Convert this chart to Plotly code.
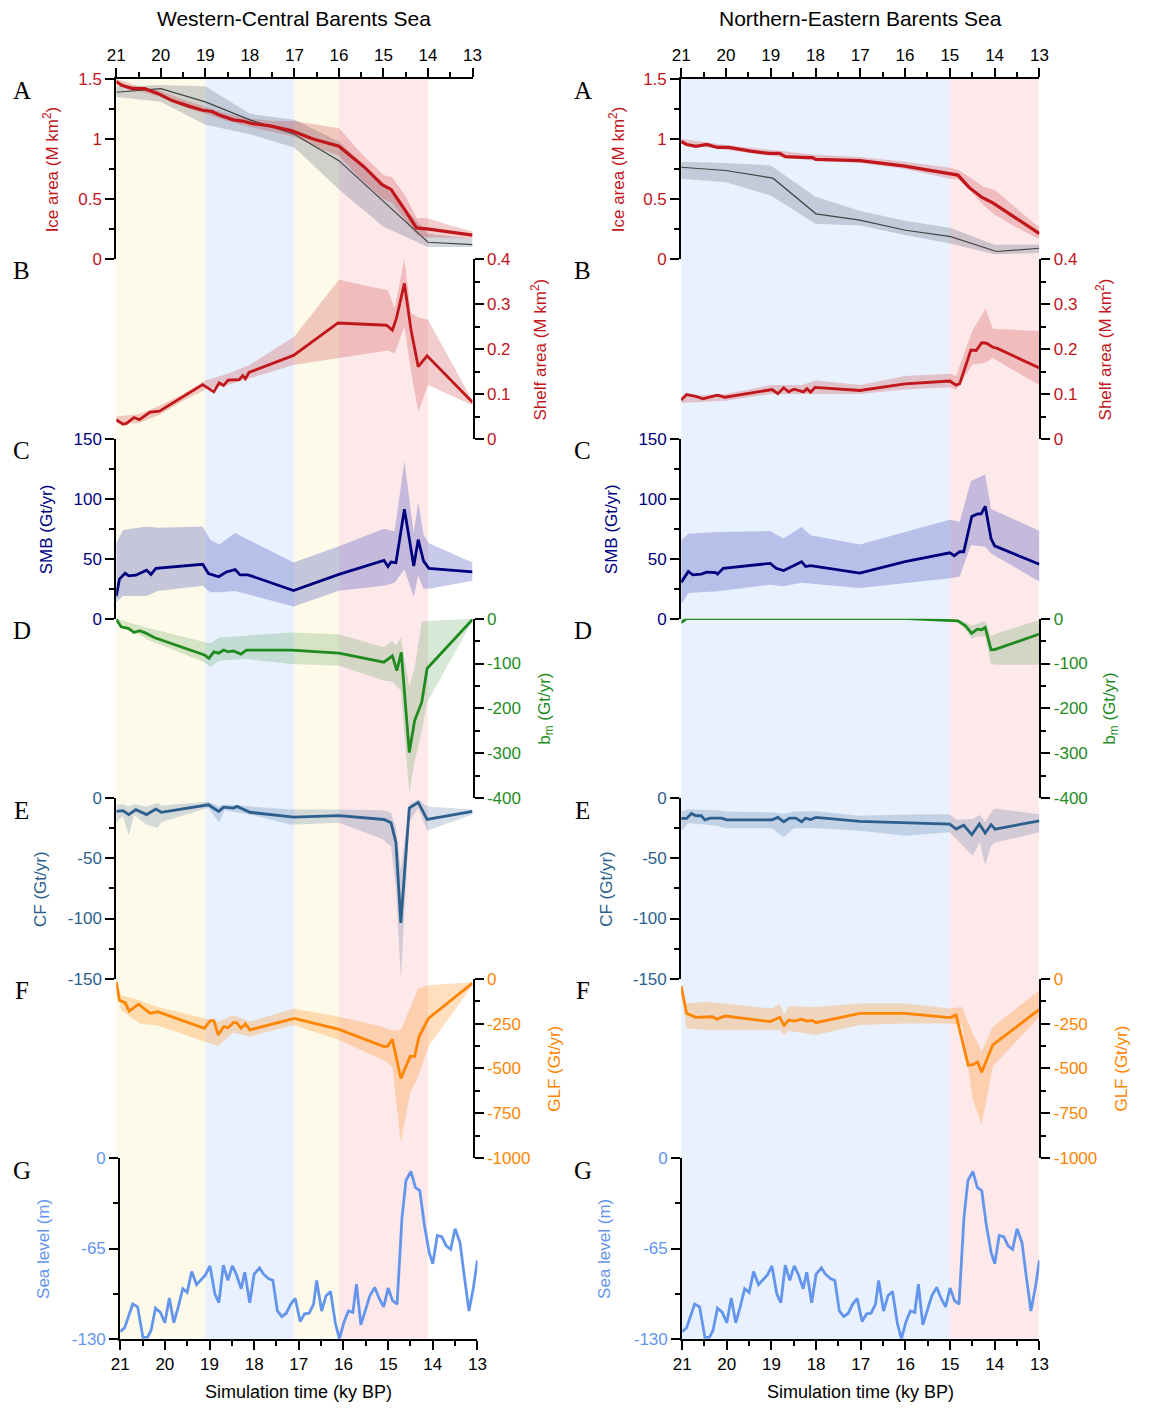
import plotly.graph_objects as go

W, H = 1151, 1421
OFF = 8                      # page body margin of the browser
FW, FH = W - 2 * OFF, H - 2 * OFF

# ---------------- DATA ----------------
# Western-Central Barents Sea
WC_ICE_T = [21.0, 20.89, 20.64, 20.36, 20.07, 19.75, 19.34, 19.06, 18.85, 18.69, 18.37, 18.16, 17.96, 17.55, 17.07, 16.58, 16.0, 15.44, 15.03, 14.83, 14.5, 14.26, 13.98, 13.0]
WC_ICE = [1.48, 1.45, 1.42, 1.42, 1.38, 1.32, 1.27, 1.24, 1.23, 1.20, 1.16, 1.15, 1.13, 1.11, 1.07, 1.00, 0.94, 0.77, 0.62, 0.58, 0.40, 0.26, 0.25, 0.20]
WC_ICE_BT = [21, 20.5, 20, 19.5, 19, 18.5, 18, 17.5, 17, 16.5, 16, 15.5, 15, 14.8, 14.5, 14.25, 14, 13.5, 13]
WC_ICE_LO = [1.46, 1.40, 1.35, 1.27, 1.21, 1.15, 1.10, 1.06, 1.02, 0.93, 0.86, 0.66, 0.50, 0.47, 0.32, 0.20, 0.18, 0.18, 0.17]
WC_ICE_HI = [1.50, 1.44, 1.40, 1.33, 1.27, 1.21, 1.17, 1.15, 1.15, 1.12, 1.09, 0.88, 0.70, 0.68, 0.52, 0.34, 0.34, 0.28, 0.23]
WC_GRD_T = [21, 20, 19, 18, 17, 16, 14, 13]
WC_GRD = [1.39, 1.42, 1.31, 1.16, 1.04, 0.82, 0.14, 0.12]
WC_GRD_BT = [21, 20, 19, 18, 17, 16, 15, 14, 13]
WC_GRD_LO = [1.35, 1.31, 1.12, 1.04, 0.93, 0.58, 0.27, 0.10, 0.10]
WC_GRD_HI = [1.44, 1.45, 1.44, 1.21, 1.16, 0.98, 0.62, 0.21, 0.17]

WC_SHELF_T = [21, 20.85, 20.77, 20.6, 20.48, 20.24, 20.03, 19.06, 18.81, 18.69, 18.59, 18.49, 18.24, 18.16, 18.1, 18.02, 17.02, 16.02, 14.93, 14.80, 14.71, 14.53, 14.38, 14.22, 14.02, 13.0]
WC_SHELF = [0.043, 0.033, 0.035, 0.048, 0.043, 0.060, 0.062, 0.121, 0.105, 0.125, 0.119, 0.131, 0.132, 0.141, 0.134, 0.148, 0.186, 0.258, 0.253, 0.242, 0.268, 0.346, 0.242, 0.161, 0.185, 0.082]
WC_SHELF_BT = [21, 20.5, 20, 19.5, 19, 18.5, 18, 17, 16, 14.9, 14.75, 14.53, 14.38, 14.22, 14.0, 13]
WC_SHELF_LO = [0.035, 0.035, 0.055, 0.085, 0.11, 0.12, 0.135, 0.165, 0.18, 0.197, 0.19, 0.25, 0.15, 0.06, 0.12, 0.075]
WC_SHELF_HI = [0.05, 0.055, 0.075, 0.10, 0.13, 0.145, 0.165, 0.228, 0.354, 0.33, 0.29, 0.40, 0.28, 0.27, 0.265, 0.085]

WC_SMB_T = [21, 20.93, 20.8, 20.72, 20.56, 20.32, 20.22, 20.11, 19.06, 18.93, 18.7, 18.53, 18.33, 18.22, 18.04, 17.02, 16.0, 14.99, 14.9, 14.83, 14.72, 14.53, 14.32, 14.22, 14.1, 13.98, 13.0]
WC_SMB = [18.7, 33, 38, 35.8, 36.3, 40.5, 37, 42, 45.4, 37.7, 35, 39, 41, 36.6, 36.6, 23.4, 37, 48.7, 43.5, 47.3, 46.8, 91.4, 44, 66, 48, 42, 39]
WC_SMB_BT = [21, 20.85, 20.32, 20.07, 19.06, 18.89, 18.69, 18.33, 18.04, 17.02, 16.0, 14.99, 14.75, 14.53, 14.32, 14.22, 14.10, 13.98, 13.0]
WC_SMB_LO = [14, 19, 19, 23, 27.5, 22, 22, 23, 20.6, 10.2, 23.4, 27.5, 30, 41, 18, 36, 25, 25, 31.6]
WC_SMB_HI = [63, 74, 77, 76, 77, 66, 62, 71.5, 66, 47, 60.5, 75, 73, 131.5, 71.5, 97.7, 70, 63, 47]

WC_BM_T = [21, 20.89, 20.72, 20.6, 20.48, 20.36, 20.15, 19.02, 18.92, 18.81, 18.7, 18.59, 18.49, 18.37, 18.2, 18.08, 17.07, 16.0, 14.99, 14.8, 14.7, 14.6, 14.42, 14.3, 14.14, 14.02, 13.0]
WC_BM = [-1.5, -18, -22, -31, -27, -31, -42, -81, -88.5, -74, -77, -70, -74, -72, -79, -70, -70, -77, -97, -83, -116, -75, -298, -227, -186, -111, -2]
WC_BM_BT = [21, 20.32, 19.02, 18.89, 18.69, 18.08, 17.07, 16.0, 14.99, 14.8, 14.71, 14.61, 14.42, 14.3, 14.14, 14.02, 13.0]
WC_BM_LO = [-3, -46, -97, -108, -94, -90, -101, -105, -138, -140, -150, -160, -389, -319, -250, -186, -5]
WC_BM_HI = [0, -20, -52, -55, -42, -38, -31, -35, -64, -50, -60, -42, -150, -110, -7, -5, 0]

WC_CF_T = [21, 20.85, 20.72, 20.56, 20.32, 20.11, 19.99, 18.93, 18.7, 18.59, 18.37, 18.29, 18.0, 17.02, 16.0, 14.99, 14.83, 14.72, 14.61, 14.42, 14.22, 14.02, 13.0]
WC_CF = [-11, -10.4, -13.6, -9.5, -13.6, -9, -11.7, -5.5, -11, -7.4, -8.2, -6.8, -11.7, -15.8, -14.5, -17.7, -20.5, -36.8, -103.6, -8.2, -3.5, -17.7, -11]
WC_CF_BT = [21, 20.85, 20.72, 20.6, 20.32, 20.07, 19.99, 18.93, 18.69, 18.57, 17.96, 17.07, 16.0, 15.03, 14.83, 14.72, 14.61, 14.42, 14.22, 14.02, 13.0]
WC_CF_LO = [-20, -15, -31, -14, -22, -24.5, -20, -8, -20.5, -10, -14, -22, -20.5, -34, -40, -75, -150, -20, -8, -27, -13.6]
WC_CF_HI = [-5.5, -5, -7, -5, -7, -4, -6, -3, -7, -5, -7, -9.5, -9.5, -10, -12, -25, -60, -5, -1, -7, -9.5]

WC_GLF_T = [21, 20.93, 20.8, 20.71, 20.5, 20.32, 20.24, 20.07, 19.02, 18.89, 18.81, 18.71, 18.59, 18.49, 18.37, 18.3, 18.2, 18.1, 18.0, 17.0, 16.0, 14.99, 14.9, 14.8, 14.61, 14.4, 14.3, 14.2, 13.99, 13.0]
WC_GLF = [-18, -120, -134, -180, -142, -180, -193, -184, -276, -234, -234, -313, -267, -273, -245, -245, -276, -252, -285, -221, -282, -378, -375, -337, -556, -433, -433, -322, -221, -25]
WC_GLF_BT = [21, 20.89, 20.48, 20.07, 19.02, 18.71, 18.37, 18.0, 17.02, 16.0, 15.03, 14.8, 14.61, 14.4, 14.22, 13.99, 13.0]
WC_GLF_LO = [-25, -175, -249, -260, -350, -374, -300, -322, -258, -341, -451, -488, -912, -635, -543, -378, -37]
WC_GLF_HI = [-10, -92, -120, -157, -221, -240, -203, -240, -166, -212, -267, -290, -285, -157, -55, -37, -20]

# Sea level (same forcing in both regions)
SL_T = [21.0, 20.9, 20.72, 20.61, 20.49, 20.39, 20.31, 20.21, 20.1, 20.0, 19.9, 19.8, 19.7, 19.6, 19.5, 19.4, 19.29, 19.19, 19.09, 18.99,
        18.88, 18.79, 18.69, 18.59, 18.49, 18.4, 18.29, 18.21, 18.1, 18.0, 17.88, 17.79, 17.68, 17.58, 17.48, 17.38, 17.28, 17.18, 17.08, 16.97,
        16.87, 16.77, 16.67, 16.6, 16.49, 16.39, 16.29, 16.18, 16.09, 15.99, 15.89, 15.79, 15.71, 15.61, 15.51, 15.41, 15.3, 15.2, 15.1, 15.0,
        14.9, 14.8, 14.69, 14.6, 14.49, 14.39, 14.29, 14.19, 14.08, 14.0, 13.9, 13.8, 13.7, 13.6, 13.5, 13.39, 13.29, 13.19, 13.09, 13.0]
SL = [-125, -122, -105, -107, -129, -129, -124, -108, -111, -118.5, -100.6, -118.5, -107, -94, -96.6, -81.6, -91, -87.5, -84, -77.5,
      -97.8, -104, -77, -88, -77.5, -83.5, -94, -82, -104, -83.5, -79, -83.5, -86.6, -88, -110, -114, -111.6, -105, -101, -117.6,
      -112, -111.6, -105, -88, -110, -99, -96, -119, -130, -118, -110, -111, -90.6, -120, -108.5, -99, -93, -101, -107, -93.5,
      -102.6, -105, -43, -16, -9.5, -21, -23.4, -47.7, -68, -76, -55.6, -56.5, -63, -65.6, -50.8, -60.8, -86, -110, -93, -73.5]

# Northern-Eastern Barents Sea
NE_ICE_T = [21, 20.88, 20.67, 20.43, 20.19, 19.94, 19.45, 19.05, 18.8, 18.68, 18.31, 18.07, 17.99, 17.01, 16.04, 15.02, 14.82, 14.57, 14.29, 14.04, 13.0]
NE_ICE = [0.98, 0.955, 0.94, 0.955, 0.93, 0.93, 0.90, 0.88, 0.88, 0.853, 0.848, 0.845, 0.83, 0.82, 0.776, 0.707, 0.70, 0.597, 0.515, 0.468, 0.212]
NE_ICE_BT = [21, 20, 19, 18, 17, 16, 15, 14.8, 14.5, 14.25, 14.0, 13.5, 13]
NE_ICE_LO = [0.96, 0.91, 0.86, 0.82, 0.80, 0.75, 0.67, 0.66, 0.55, 0.45, 0.37, 0.26, 0.165]
NE_ICE_HI = [1.0, 0.95, 0.91, 0.87, 0.85, 0.81, 0.76, 0.74, 0.67, 0.60, 0.578, 0.42, 0.26]
NE_GRD_T = [21, 20.0, 18.95, 17.99, 17.01, 15.99, 14.98, 13.96, 13.0]
NE_GRD = [0.765, 0.738, 0.674, 0.377, 0.325, 0.24, 0.187, 0.063, 0.09]
NE_GRD_BT = [21, 20, 19, 18, 17, 16, 15, 14, 13]
NE_GRD_LO = [0.67, 0.64, 0.53, 0.295, 0.28, 0.20, 0.13, 0.04, 0.05]
NE_GRD_HI = [0.81, 0.80, 0.78, 0.52, 0.40, 0.32, 0.26, 0.12, 0.12]

NE_SHELF_T = [21, 20.88, 20.67, 20.51, 20.35, 20.19, 20.02, 18.97, 18.84, 18.71, 18.60, 18.48, 18.27, 18.19, 18.11, 18.01, 17.01, 16.0, 15.0, 14.86, 14.78, 14.53, 14.41, 14.29, 14.18, 14.04, 13.95, 13.0]
NE_SHELF = [0.087, 0.099, 0.095, 0.0895, 0.094, 0.0976, 0.093, 0.110, 0.101, 0.114, 0.105, 0.111, 0.105, 0.112, 0.104, 0.115, 0.108, 0.1226, 0.129, 0.12, 0.123, 0.198, 0.197, 0.214, 0.213, 0.204, 0.202, 0.158]
NE_SHELF_BT = [21, 20, 19, 18.3, 18, 17, 16, 15, 14.86, 14.5, 14.2, 14.04, 13.0]
NE_SHELF_LO = [0.08, 0.085, 0.10, 0.10, 0.10, 0.10, 0.11, 0.115, 0.11, 0.165, 0.17, 0.18, 0.12]
NE_SHELF_HI = [0.095, 0.10, 0.12, 0.12, 0.13, 0.12, 0.14, 0.145, 0.14, 0.24, 0.29, 0.245, 0.24]

NE_SMB_T = [21, 20.84, 20.74, 20.55, 20.43, 20.23, 20.19, 20.06, 19.01, 18.88, 18.71, 18.31, 18.22, 18.11, 17.01, 16.0, 15.0, 14.9, 14.78, 14.69, 14.51, 14.38, 14.3, 14.21, 14.08, 14.0, 13.0]
NE_SMB = [30.3, 39.4, 36.6, 37.2, 38.8, 38.5, 37.2, 42.1, 46.2, 42.1, 40.2, 47.6, 43.5, 44.3, 38, 47.6, 55, 52.6, 55.9, 55.9, 85.3, 87.5, 87.5, 93.8, 66.9, 60.8, 45.4]
NE_SMB_BT = [21, 20.84, 20.19, 19.01, 18.72, 18.31, 18.11, 17.01, 15.0, 14.78, 14.53, 14.21, 14.08, 13.0]
NE_SMB_LO = [11.8, 21.5, 22.8, 28.3, 27, 30, 29.7, 25.6, 33.8, 35.2, 61.4, 60, 54.5, 31]
NE_SMB_HI = [65.5, 71, 72.4, 73.2, 66.9, 76.5, 69.6, 61.9, 82.6, 81, 115, 120.5, 91.6, 73.2]

NE_BM_T = [21, 20.88, 15.96, 15.0, 14.82, 14.65, 14.51, 14.39, 14.29, 14.21, 14.08, 14.0, 13.0]
NE_BM = [-8.7, 0, 0, -5, -5, -16, -32.8, -23.3, -24.8, -19.7, -69.2, -69, -34.2]
NE_BM_BT = [21, 20.88, 15.96, 15.0, 14.82, 14.65, 14.51, 14.39, 14.21, 14.08, 14.0, 13.0]
NE_BM_LO = [-10, -1, -1, -7, -8, -25, -45, -40, -40, -100, -103, -103]
NE_BM_HI = [-7, 0, 0, -3, -2, -8, -15, -12, -5, -40, -34, -3]

NE_CF_T = [21, 20.88, 20.77, 20.67, 20.55, 20.47, 20.35, 20.10, 19.98, 18.97, 18.84, 18.71, 18.58, 18.44, 18.31, 18.22, 18.11, 17.99, 17.01, 16.0, 15.0, 14.86, 14.69, 14.51, 14.34, 14.21, 14.08, 13.99, 13.0]
NE_CF = [-16.8, -16.8, -12.7, -14.6, -14.6, -18, -16.6, -16.6, -18, -18, -16, -19.6, -16.6, -16.6, -19.6, -16.6, -17.7, -16, -19.3, -20.7, -21.5, -25.7, -22.4, -30.4, -21.5, -29, -22, -25.7, -18.8]
NE_CF_BT = [21, 20.84, 20.19, 20.02, 18.97, 18.71, 18.48, 17.99, 17.01, 16.0, 15.0, 14.86, 14.49, 14.33, 14.21, 14.08, 14.0, 13.0]
NE_CF_LO = [-27, -20.7, -23, -25, -25, -32.6, -25, -25, -27, -31.2, -28.4, -34, -47.8, -36.7, -56, -39.5, -37, -28.4]
NE_CF_HI = [-11, -9.1, -10, -11, -11.9, -13, -11, -10.8, -14.6, -13.5, -13.3, -18, -17.4, -14, -20, -12, -8.6, -13.3]

NE_GLF_T = [21, 20.88, 20.67, 20.31, 20.20, 20.02, 19.01, 18.80, 18.70, 18.60, 18.48, 18.31, 18.19, 18.07, 17.99, 17.01, 16.0, 15.0, 14.86, 14.59, 14.49, 14.38, 14.29, 14.04, 13.0]
NE_GLF = [-42, -193, -215, -212, -225, -208, -239, -215, -261, -230, -236, -226, -236, -232, -245, -193, -193, -217, -203, -482, -479, -464, -521, -368, -171]
NE_GLF_BT = [21, 20.88, 20.43, 18.97, 18.80, 18.70, 18.60, 17.99, 17.01, 16.0, 15.0, 14.73, 14.49, 14.29, 14.04, 13.0]
NE_GLF_LO = [-45, -276, -285, -285, -285, -313, -290, -313, -258, -249, -249, -258, -672, -810, -488, -212]
NE_GLF_HI = [-38, -138, -129, -166, -138, -200, -153, -157, -138, -138, -166, -157, -304, -405, -267, -64]

# Climate periods (start, end, kind)
WC_PERIODS = [(21, 19, "cold"), (19, 17, "stadial"), (17, 16, "cold"), (16, 14, "warm")]
NE_PERIODS = [(21, 15, "stadial"), (15, 13, "warm")]

X_TICKS = [21, 20, 19, 18, 17, 16, 15, 14, 13]

# ---------------- STYLE ----------------
RED = "#c0161c"
NAVY = "#00007f"
GREEN = "#1f8b1f"
STEEL = "#2c5f8d"
ORANGE = "#ff8400"
CORN = "#6495ed"
GRAY = "#444444"
BG = {"cold": "#fdfae9", "stadial": "#e8f1fd", "warm": "#fde8ea"}
FONT = "Liberation Sans, Arial, sans-serif"

panels = [
    dict(rng=[0, 1.5], tv=[0, 0.5, 1, 1.5], tt=["0", "0.5", "1", "1.5"], minor=0.25, side="left", color=RED,
         title="Ice area (M km<sup>2</sup>)"),
    dict(rng=[0, 0.4], tv=[0, 0.1, 0.2, 0.3, 0.4], tt=["0", "0.1", "0.2", "0.3", "0.4"], minor=0.05, side="right", color=RED,
         title="Shelf area (M km<sup>2</sup>)"),
    dict(rng=[0, 150], tv=[0, 50, 100, 150], tt=["0", "50", "100", "150"], minor=25, side="left", color=NAVY,
         title="SMB (Gt/yr)"),
    dict(rng=[-400, 0], tv=[-400, -300, -200, -100, 0], tt=["-400", "-300", "-200", "-100", "0"], minor=50, side="right",
         color=GREEN, title="b<sub>m</sub> (Gt/yr)"),
    dict(rng=[-150, 0], tv=[-150, -100, -50, 0], tt=["-150", "-100", "-50", "0"], minor=25, side="left", color=STEEL,
         title="CF (Gt/yr)"),
    dict(rng=[-1000, 0], tv=[-1000, -750, -500, -250, 0], tt=["-1000", "-750", "-500", "-250", "0"], minor=125,
         side="right", color=ORANGE, title="GLF (Gt/yr)"),
    dict(rng=[-130, 0], tv=[-130, -65, 0], tt=["-130", "-65", "0"], minor=32.5, side="left", color=CORN,
         title="Sea level (m)"),
]
EDGES = [79, 261.5, 444, 626, 808, 991, 1173, 1356]
LETTERS = ["A", "B", "C", "D", "E", "F", "G"]

columns = [
    dict(x0=117, x1=479, gx0=121, gx1=484, title="Western-Central Barents Sea", letter_x=21,
         ltitle_x=[51, 547, 46, 554, 40, 562, 43], periods=WC_PERIODS),
    dict(x0=691, x1=1055, gx0=692, gx1=1055, title="Northern-Eastern Barents Sea", letter_x=591,
         ltitle_x=[626, 1121, 621, 1128, 615, 1138, 613], periods=NE_PERIODS),
]


def px(x):
    return (x - OFF) / FW


def py(y):
    return 1 - (y - OFF) / FH


fig = go.Figure()


def ax_names(n):
    return ("x" if n == 1 else f"x{n}"), ("y" if n == 1 else f"y{n}")


def add_band(n, t, lo, hi, fill):
    xa, ya = ax_names(n)
    fig.add_trace(go.Scatter(x=list(t) + list(t)[::-1], y=list(hi) + list(lo)[::-1], xaxis=xa, yaxis=ya,
                             mode="lines", fill="toself", fillcolor=fill, line=dict(width=0),
                             hoverinfo="skip", showlegend=False))


def add_line(n, t, v, color, width):
    xa, ya = ax_names(n)
    fig.add_trace(go.Scatter(x=t, y=v, xaxis=xa, yaxis=ya, mode="lines",
                             line=dict(color=color, width=width), hoverinfo="skip", showlegend=False))


RB = "rgba(205,55,55,0.25)"
GB = "rgba(95,105,125,0.28)"
NB = "rgba(70,80,185,0.30)"
GRB = "rgba(70,150,70,0.22)"
SB = "rgba(60,100,150,0.22)"
OB = "rgba(255,150,40,0.30)"

series = [
    [(1, WC_GRD_BT, WC_GRD_LO, WC_GRD_HI, GB, WC_GRD_T, WC_GRD, GRAY, 1.2),
     (1, WC_ICE_BT, WC_ICE_LO, WC_ICE_HI, RB, WC_ICE_T, WC_ICE, RED, 3.2)],
    [(2, WC_SHELF_BT, WC_SHELF_LO, WC_SHELF_HI, RB, WC_SHELF_T, WC_SHELF, RED, 2.8)],
    [(3, WC_SMB_BT, WC_SMB_LO, WC_SMB_HI, NB, WC_SMB_T, WC_SMB, NAVY, 2.8)],
    [(4, WC_BM_BT, WC_BM_LO, WC_BM_HI, GRB, WC_BM_T, WC_BM, GREEN, 2.8)],
    [(5, WC_CF_BT, WC_CF_LO, WC_CF_HI, SB, WC_CF_T, WC_CF, STEEL, 2.8)],
    [(6, WC_GLF_BT, WC_GLF_LO, WC_GLF_HI, OB, WC_GLF_T, WC_GLF, ORANGE, 2.8)],
    [(7, None, None, None, None, SL_T, SL, CORN, 2.8)],
    [(8, NE_GRD_BT, NE_GRD_LO, NE_GRD_HI, GB, NE_GRD_T, NE_GRD, GRAY, 1.2),
     (8, NE_ICE_BT, NE_ICE_LO, NE_ICE_HI, RB, NE_ICE_T, NE_ICE, RED, 3.2)],
    [(9, NE_SHELF_BT, NE_SHELF_LO, NE_SHELF_HI, RB, NE_SHELF_T, NE_SHELF, RED, 2.8)],
    [(10, NE_SMB_BT, NE_SMB_LO, NE_SMB_HI, NB, NE_SMB_T, NE_SMB, NAVY, 2.8)],
    [(11, NE_BM_BT, NE_BM_LO, NE_BM_HI, GRB, NE_BM_T, NE_BM, GREEN, 2.8)],
    [(12, NE_CF_BT, NE_CF_LO, NE_CF_HI, SB, NE_CF_T, NE_CF, STEEL, 2.8)],
    [(13, NE_GLF_BT, NE_GLF_LO, NE_GLF_HI, OB, NE_GLF_T, NE_GLF, ORANGE, 2.8)],
    [(14, None, None, None, None, SL_T, SL, CORN, 2.8)],
]

for grp in series:
    for (n, bt, lo, hi, fc, t, v, c, w) in grp:
        if bt is not None:
            add_band(n, bt, lo, hi, fc)
    for (n, bt, lo, hi, fc, t, v, c, w) in grp:
        add_line(n, t, v, c, w)

layout = dict(width=FW, height=FH, autosize=False, margin=dict(l=0, r=0, t=0, b=0, pad=0),
              paper_bgcolor="white", plot_bgcolor="rgba(0,0,0,0)", showlegend=False)
shapes, annotations = [], []

for ci, col in enumerate(columns):
    for i, p in enumerate(panels):
        n = ci * 7 + i + 1
        xk = "xaxis" if n == 1 else f"xaxis{n}"
        yk = "yaxis" if n == 1 else f"yaxis{n}"
        xa, ya = ax_names(n)
        if i == 6:
            xd = [px(col["gx0"]), px(col["gx1"])]
        else:
            xd = [px(col["x0"]), px(col["x1"])]
        xax = dict(domain=xd, range=[21, 13], anchor=ya, showgrid=False, zeroline=False, fixedrange=True)
        if i in (0, 6):
            xax.update(side="top" if i == 0 else "bottom", showline=True, linecolor="black", linewidth=2,
                       ticks="outside", ticklen=9, tickwidth=1.8, tickcolor="black",
                       tickvals=X_TICKS, ticktext=[str(v) for v in X_TICKS],
                       tickfont=dict(family=FONT, size=17, color="black"),
                       minor=dict(ticks="outside", ticklen=5, tickwidth=1.8, tickcolor="black", dtick=0.5, tick0=13))
        else:
            xax.update(visible=False)
        yax = dict(domain=[py(EDGES[i + 1]), py(EDGES[i])], range=p["rng"], anchor=xa, side=p["side"],
                   showgrid=False, zeroline=False, showline=True, linecolor="black", linewidth=2,
                   ticks="outside", ticklen=9, tickwidth=1.8, tickcolor="black",
                   tickvals=p["tv"], ticktext=p["tt"], tickfont=dict(family=FONT, size=17, color=p["color"]),
                   minor=dict(ticks="outside", ticklen=5, tickwidth=1.8, tickcolor="black", dtick=p["minor"], tick0=0),
                   fixedrange=True)
        layout[xk] = xax
        layout[yk] = yax
        annotations.append(dict(x=px(col["ltitle_x"][i]), y=py((EDGES[i] + EDGES[i + 1]) / 2), xref="paper",
                                yref="paper", text=p["title"], textangle=-90, showarrow=False,
                                xanchor="center", yanchor="middle",
                                font=dict(family=FONT, size=17, color=p["color"])))
        annotations.append(dict(x=px(col["letter_x"]), y=py(EDGES[i] + 12), xref="paper", yref="paper",
                                text=LETTERS[i], showarrow=False, xanchor="center", yanchor="middle",
                                font=dict(family="Liberation Serif, Times New Roman, serif", size=25, color="black")))
    annotations.append(dict(x=px((col["x0"] + col["x1"]) / 2), y=py(18), xref="paper", yref="paper",
                            text=col["title"], showarrow=False, xanchor="center", yanchor="middle",
                            font=dict(family=FONT, size=21, color="black")))
    annotations.append(dict(x=px((col["gx0"] + col["gx1"]) / 2), y=py(1410), xref="paper", yref="paper",
                            text="Simulation time (ky BP)", showarrow=False, xanchor="center", yanchor="middle",
                            font=dict(family=FONT, size=18, color="black")))
    xref = "x" if ci == 0 else "x8"
    for (a, b, kind) in col["periods"]:
        shapes.append(dict(type="rect", xref=xref, yref="paper", x0=a, x1=b, y0=py(EDGES[-1]), y1=py(EDGES[0]),
                           fillcolor=BG[kind], line=dict(width=0), layer="below"))

layout["shapes"] = shapes
layout["annotations"] = annotations
fig.update_layout(**layout)
fig.write_html("out.html")
